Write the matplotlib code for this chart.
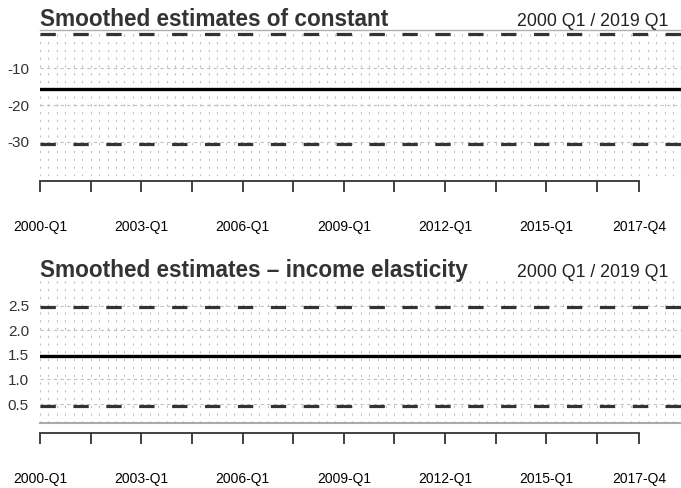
import matplotlib
matplotlib.use("Agg")
import matplotlib.pyplot as plt

plt.rcParams['font.family'] = ['Liberation Sans', 'DejaVu Sans']

# quarters 2000 Q1 .. 2019 Q1
quarters = [f"{2000 + i // 4}-Q{i % 4 + 1}" for i in range(77)]
n_q = len(quarters)

# smoothed estimates (flat over the sample)
const_mean = [-15.7] * n_q
const_upper = [-0.9] * n_q
const_lower = [-30.5] * n_q

elast_mean = [1.48] * n_q
elast_upper = [2.48] * n_q
elast_lower = [0.47] * n_q

tick_pos = [0, 6, 12, 18, 24, 30, 36, 42, 48, 54, 60, 66, 71]
tick_lab = ["2000-Q1", "", "2003-Q1", "", "2006-Q1", "", "2009-Q1", "",
            "2012-Q1", "", "2015-Q1", "", "2017-Q4"]

titles = ["Smoothed estimates of constant", "Smoothed estimates \u2013 income elasticity"]
range_text = "2000 Q1 / 2019 Q1"

fig = plt.figure(figsize=(6.81, 4.88), dpi=100)
W, H = 681, 488
PX = 72 / 100  # points per pixel


def panel(top, bottom, ylim, yticks, ylabels, mean, upper, lower, title, outward, frame_top):
    ax = fig.add_axes([40 / W, 1 - bottom / H, 1 - 40 / W, (bottom - top) / H])
    x = list(range(n_q))
    # grid
    for q in x:
        ax.axvline(q, color="#c0c0c0", lw=0.8, ls=(0, (2, 5)), zorder=0)
    for v in yticks:
        ax.axhline(v, color="#c0c0c0", lw=0.8, ls=(0, (3, 3)), zorder=0)
    ax.plot(x, upper, color="#333333", lw=2.3, ls=(0, (4.8, 5.5)))
    ax.plot(x, lower, color="#333333", lw=2.3, ls=(0, (4.8, 5.5)))
    ax.plot(x, mean, color="black", lw=2.4)
    ax.set_xlim(0, (W - 40) / 8.44)
    ax.set_ylim(*ylim)
    ax.set_yticks(yticks)
    ax.set_yticklabels(ylabels, fontsize=11, color="#333333")
    ax.tick_params(axis="y", length=0, pad=11 * PX)
    ax.set_xticks(tick_pos)
    ax.set_xticklabels(tick_lab, fontsize=10.5, color="#222222")
    ax.tick_params(axis="x", length=11 * PX, width=1.3, color="#333333", pad=28 * PX)
    for s in ["left", "right"]:
        ax.spines[s].set_visible(False)
    ax.spines["bottom"].set_position(("outward", outward * PX))
    ax.spines["bottom"].set_bounds(0, 71)
    ax.spines["bottom"].set_linewidth(1.3)
    ax.spines["bottom"].set_color("#333333")
    if frame_top:
        ax.spines["top"].set_color("#b0b0b0")
        ax.spines["top"].set_linewidth(1)
    else:
        ax.spines["top"].set_visible(False)
        ax.axhline(ylim[0], color="#aaaaaa", lw=1.5, clip_on=False)
    fig.text(40 / W, 1 - (top - 4) / H, title, fontsize=16.3, fontweight="bold",
             color="#333333", ha="left", va="baseline")
    fig.text(668 / W, 1 - (top - 4) / H, range_text, fontsize=12.8, color="#222222",
             ha="right", va="baseline")
    return ax


panel(30, 176, (-39.2, 0.3), [-10, -20, -30], ["-10", "-20", "-30"],
      const_mean, const_upper, const_lower, titles[0], 5, True)
panel(281, 423, (0.115, 3.0), [0.5, 1.0, 1.5, 2.0, 2.5], ["0.5", "1.0", "1.5", "2.0", "2.5"],
      elast_mean, elast_upper, elast_lower, titles[1], 10, False)

fig.savefig("out.png", dpi=100)
